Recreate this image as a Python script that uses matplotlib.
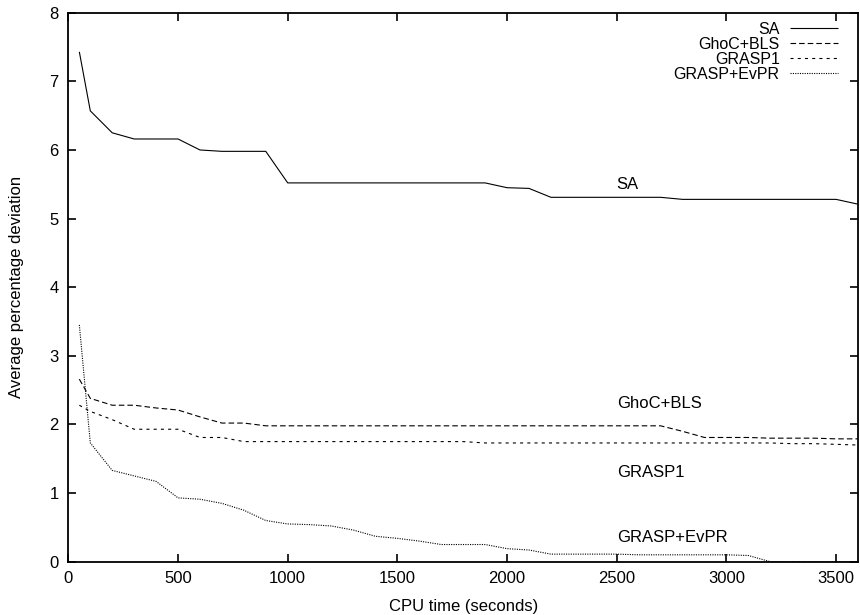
import matplotlib
matplotlib.use("Agg")
import matplotlib.pyplot as plt

plt.rcParams['font.family'] = ['Liberation Sans', 'DejaVu Sans']
plt.rcParams['lines.scale_dashes'] = False

# CPU time samples (seconds)
cpu_time = [50, 100, 200, 300, 400, 500, 600, 700, 800, 900,
            1000, 1100, 1200, 1300, 1400, 1500, 1600, 1700, 1800, 1900,
            2000, 2100, 2200, 2300, 2400, 2500, 2600, 2700, 2800, 2900,
            3000, 3100, 3200, 3300, 3400, 3500, 3600]

sa = [7.43, 6.57, 6.25, 6.16, 6.16, 6.16, 6.00, 5.98, 5.98, 5.98,
      5.52, 5.52, 5.52, 5.52, 5.52, 5.52, 5.52, 5.52, 5.52, 5.52,
      5.45, 5.44, 5.31, 5.31, 5.31, 5.31, 5.31, 5.31, 5.28, 5.28,
      5.28, 5.28, 5.28, 5.28, 5.28, 5.28, 5.21]

ghoc_bls = [2.66, 2.38, 2.28, 2.28, 2.24, 2.21, 2.11, 2.02, 2.02, 1.98,
            1.98, 1.98, 1.98, 1.98, 1.98, 1.98, 1.98, 1.98, 1.98, 1.98,
            1.98, 1.98, 1.98, 1.98, 1.98, 1.98, 1.98, 1.98, 1.90, 1.81,
            1.81, 1.81, 1.80, 1.80, 1.80, 1.79, 1.79]

grasp1 = [2.28, 2.19, 2.07, 1.93, 1.93, 1.93, 1.81, 1.81, 1.75, 1.75,
          1.75, 1.75, 1.75, 1.75, 1.75, 1.75, 1.75, 1.75, 1.75, 1.73,
          1.73, 1.73, 1.73, 1.73, 1.73, 1.73, 1.73, 1.73, 1.73, 1.73,
          1.73, 1.73, 1.73, 1.72, 1.72, 1.71, 1.70]

grasp_evpr = [3.45, 1.73, 1.33, 1.25, 1.17, 0.93, 0.91, 0.85, 0.75, 0.60,
              0.55, 0.54, 0.52, 0.46, 0.37, 0.34, 0.30, 0.25, 0.25, 0.25,
              0.19, 0.17, 0.11, 0.11, 0.11, 0.11, 0.10, 0.10, 0.10, 0.10,
              0.10, 0.09, 0.00, 0.00, 0.00, 0.00, 0.00]

series_names = ['SA', 'GhoC+BLS', 'GRASP1', 'GRASP+EvPR']
label_y = [5.5, 2.3, 1.3, 0.35]

fig = plt.figure(figsize=(8.6, 6.15), dpi=100)
ax = fig.add_axes([0.0795, 0.0867, 0.9182, 0.8926])

styles = [(0, ()), (0, (4.0, 2.2)), (0, (2.2, 3.0)), (0, (0.8, 0.9))]
for vals, name, ls in zip([sa, ghoc_bls, grasp1, grasp_evpr], series_names, styles):
    ax.plot(cpu_time, vals, color='black', linewidth=0.8, linestyle=ls,
            label=name, zorder=2)

for name, ly in zip(series_names, label_y):
    ax.text(2500, ly, name, fontsize=12, ha='left', va='center')

ax.set_xlim(0, 3600)
ax.set_ylim(0, 8)
ax.set_xticks(range(0, 3501, 500))
ax.set_yticks(range(0, 9))
ax.tick_params(direction='in', length=6, width=1.2, top=True, right=True,
               labelsize=12, pad=7)
for sp in ax.spines.values():
    sp.set_linewidth(1.3)
    sp.set_zorder(3)

ax.set_xlabel('CPU time (seconds)', fontsize=12, labelpad=9)
ax.set_ylabel('Average percentage deviation', fontsize=12, labelpad=18)

ax.legend(loc='upper right', bbox_to_anchor=(0.9747, 0.983), frameon=False,
          markerfirst=False, fontsize=11.5, handlelength=3.0, handletextpad=0.65,
          labelspacing=0.0, borderaxespad=0, borderpad=0)

fig.savefig('out.png', dpi=100)
